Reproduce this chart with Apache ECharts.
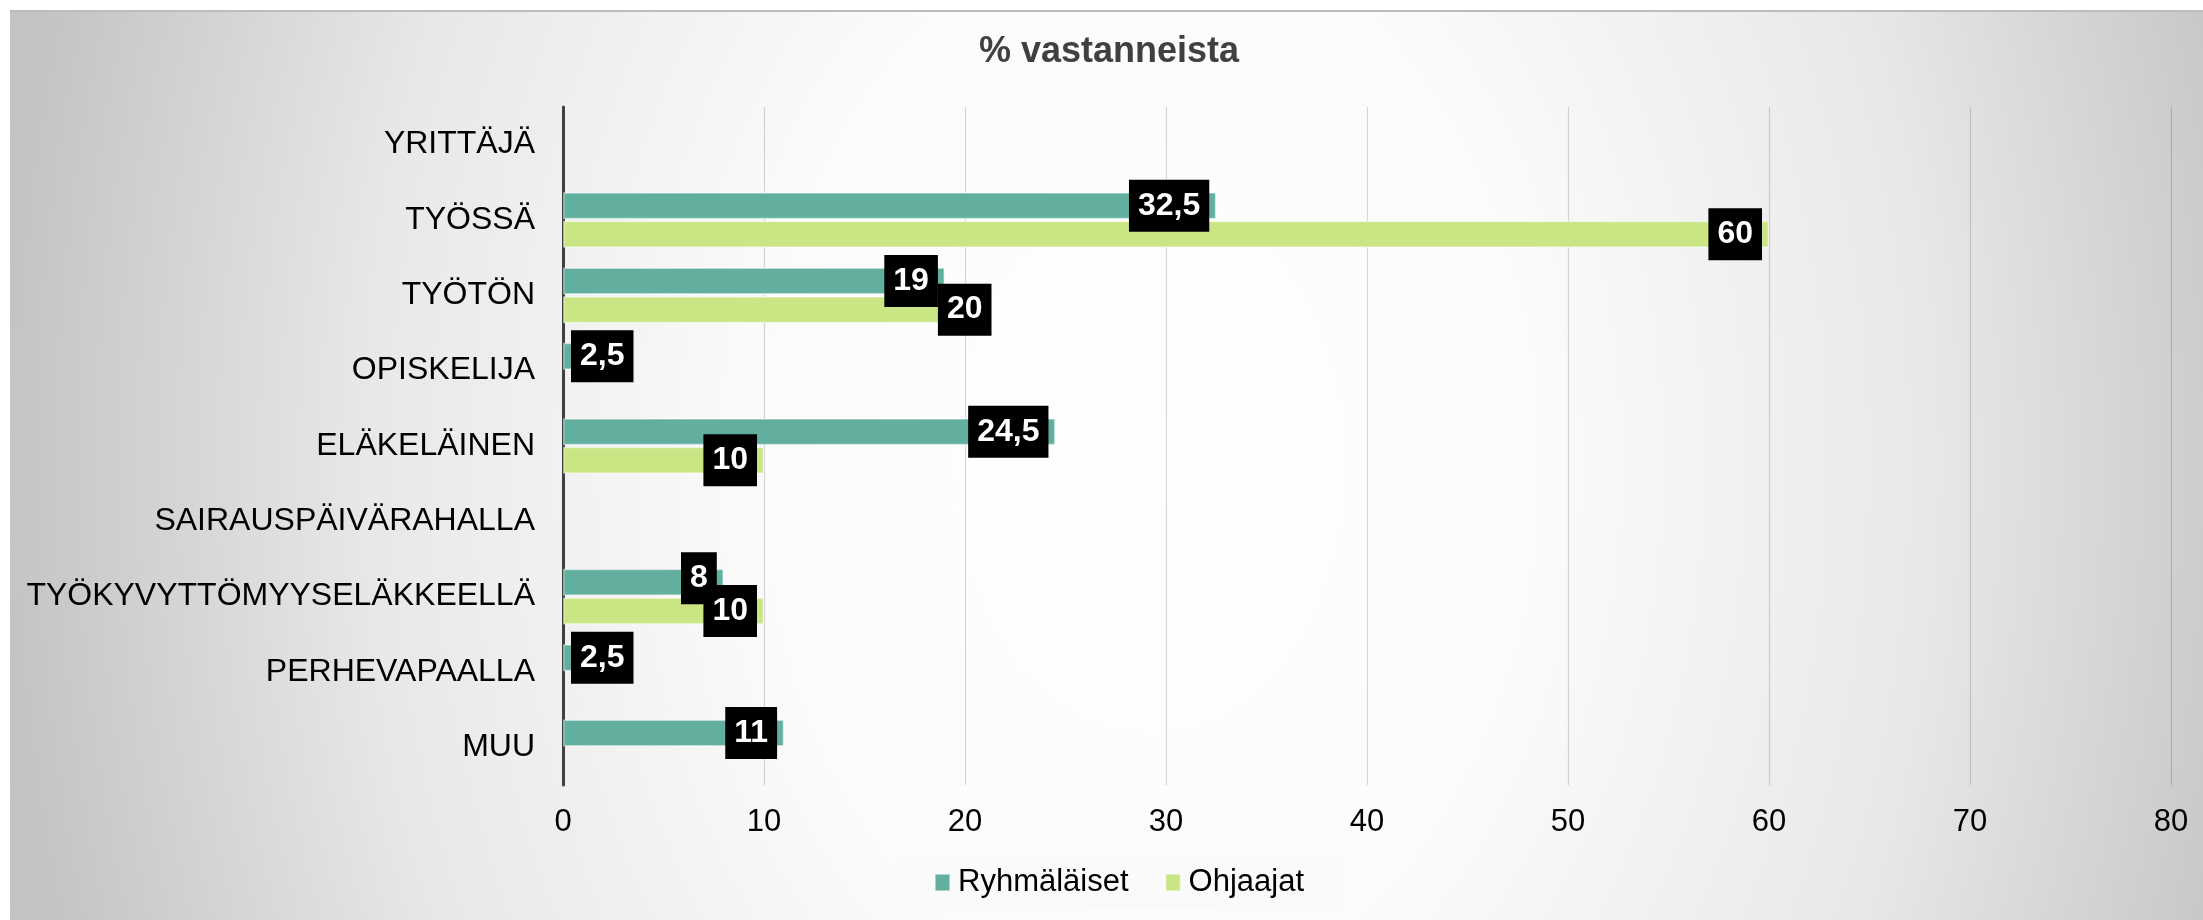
<!DOCTYPE html>
<html>
<head>
<meta charset="utf-8">
<script src="https://cdn.jsdelivr.net/npm/echarts@6/dist/echarts.min.js"></script>
<style>
  html, body { margin: 0; padding: 0; background: #ffffff; }
  #bg {
    position: absolute; left: 10px; top: 10px; width: 2193px; height: 910px;
    box-sizing: border-box; border-top: 2px solid #bdbdbd;
    background: radial-gradient(ellipse 1300px 1800px at 1140px 450px,
      #ffffff 0%, #fbfbfb 30%, #e8e8e8 60%, #c4c4c4 88%, #c0c0c0 100%);
  }
  #chart { position: absolute; left: 0; top: 0; width: 2203px; height: 920px; }
</style>
</head>
<body>
<div id="bg"></div>
<div id="chart"></div>
<script>
const titleText = '% vastanneista';
const categories = ['YRITTÄJÄ', 'TYÖSSÄ', 'TYÖTÖN', 'OPISKELIJA', 'ELÄKELÄINEN',
  'SAIRAUSPÄIVÄRAHALLA', 'TYÖKYVYTTÖMYYSELÄKKEELLÄ', 'PERHEVAPAALLA', 'MUU'];
const seriesNames = ['Ryhmäläiset', 'Ohjaajat'];
const ryhmalaiset = [null, 32.5, 19, 2.5, 24.5, null, 8, 2.5, 11];
const ohjaajat = [null, 60, 20, null, 10, null, 10, null, null];
const xTicks = [0, 10, 20, 30, 40, 50, 60, 70, 80];

const FONT = "'Liberation Sans', Arial, sans-serif";
const colors = ['#62AFA0', '#C9E584'];
const LABEL_FONT_SIZE = 32;
const LABEL_PAD_X = 9;
const LABEL_DIST = 7;

function fmt(v) { return String(v).replace('.', ','); }

const measureCtx = document.createElement('canvas').getContext('2d');
function labelWidth(v) {
  measureCtx.font = 'bold ' + LABEL_FONT_SIZE + 'px ' + FONT;
  return measureCtx.measureText(fmt(v)).width + 2 * LABEL_PAD_X;
}

function buildData(values) {
  return values.map(v => {
    if (v == null) return null;
    const item = { value: v };
    if (v < 5) {
      item.label = { position: 'insideLeft', distance: 8 };
    }
    return item;
  });
}

let chart;
// horizontal overlap (px) between the two default-placed labels of category i
function overlapAt(i) {
  const a = ryhmalaiset[i], b = ohjaajat[i];
  if (a == null || b == null) return 0;
  const ra = chart.convertToPixel({ xAxisIndex: 0 }, a) - LABEL_DIST;
  const la = ra - labelWidth(a);
  const rb = chart.convertToPixel({ xAxisIndex: 0 }, b) - LABEL_DIST;
  const lb = rb - labelWidth(b);
  if (la >= rb || ra <= lb) return 0;
  return ra - lb;
}

const labelStyle = {
  show: true,
  position: 'insideRight',
  distance: LABEL_DIST,
  formatter: p => fmt(p.value),
  color: '#ffffff',
  fontFamily: FONT,
  fontWeight: 'bold',
  fontSize: LABEL_FONT_SIZE,
  lineHeight: LABEL_FONT_SIZE,
  backgroundColor: '#000000',
  padding: [10, LABEL_PAD_X]
};

chart = echarts.init(document.getElementById('chart'), null, { renderer: 'canvas' });
chart.setOption({
  backgroundColor: 'transparent',
  animation: false,
  title: {
    text: titleText,
    left: 979,
    top: 34,
    padding: 0,
    textStyle: { fontFamily: FONT, fontWeight: 'bold', fontSize: 36, lineHeight: 36, color: '#404040' }
  },
  legend: {
    data: seriesNames,
    left: 898,
    top: 857,
    padding: [10, 36],
    itemGap: 36,
    itemWidth: 15,
    itemHeight: 17,
    backgroundColor: 'rgba(250,250,250,0.9)',
    icon: 'rect',
    textStyle: { fontFamily: FONT, fontSize: 31, lineHeight: 31, color: '#000000', padding: [0, 0, 0, 3] }
  },
  grid: { left: 563, right: 32, top: 107, bottom: 135 },
  xAxis: {
    type: 'value',
    min: xTicks[0],
    max: xTicks[xTicks.length - 1],
    interval: xTicks[1] - xTicks[0],
    axisLine: { show: false },
    axisTick: { show: false },
    splitLine: { show: true, lineStyle: { color: 'rgba(0,0,0,0.15)', width: 1.2 } },
    axisLabel: { fontFamily: FONT, fontSize: 31, color: '#000000', margin: 22 }
  },
  yAxis: {
    type: 'category',
    data: categories,
    inverse: true,
    axisLine: { show: true, lineStyle: { color: '#404040', width: 3 } },
    axisTick: { show: false },
    axisLabel: { fontFamily: FONT, fontSize: 32, color: '#000000', margin: 28 }
  },
  series: [
    {
      name: seriesNames[0], type: 'bar', data: buildData(ryhmalaiset),
      barWidth: 27, barGap: '6%',
      itemStyle: { color: colors[0], borderColor: 'rgba(255,255,255,0.45)', borderWidth: 1.5 },
      label: labelStyle,
      labelLayout: function (params) {
        const ov = overlapAt(params.dataIndex);
        if (ov > 0 && ov <= 20) return { dy: -4 };
        return {};
      }
    },
    {
      name: seriesNames[1], type: 'bar', data: buildData(ohjaajat),
      barWidth: 27, barGap: '6%',
      itemStyle: { color: colors[1], borderColor: 'rgba(255,255,255,0.45)', borderWidth: 1.5 },
      label: labelStyle,
      labelLayout: function (params) {
        const ov = overlapAt(params.dataIndex);
        if (ov > 20) return { dx: ov };
        return {};
      }
    }
  ]
});
</script>
</body>
</html>
